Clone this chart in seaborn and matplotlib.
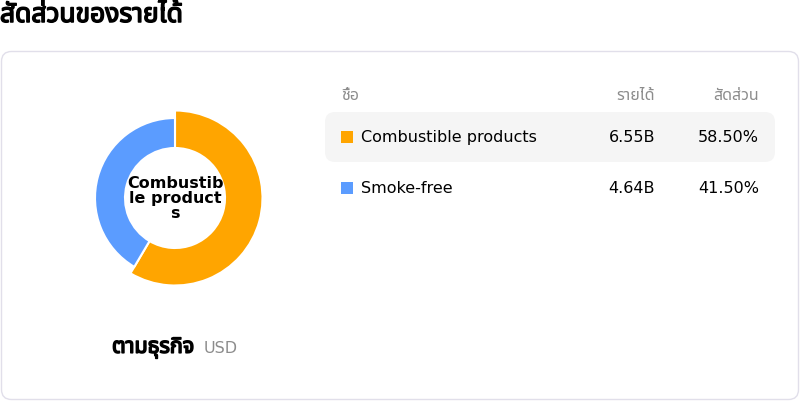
import numpy as np
import matplotlib
matplotlib.use('Agg')
import matplotlib.pyplot as plt
import matplotlib.patheffects as pe
from matplotlib.patches import FancyBboxPatch, Rectangle
import seaborn as sns

sns.set_style('white')
plt.rcParams['font.family'] = ['DejaVu Sans', 'Noto Sans Thai']
plt.rcParams['text.color'] = 'black'

title = 'สัดส่วนของรายได้'
segments = ['Combustible products', 'Smoke-free']
revenue = ['6.55B', '4.64B']
shares = [58.50, 41.50]
colors = ['#ffa500', '#5b9cff']
col_headers = ['ชื่อ', 'รายได้', 'สัดส่วน']
center_label = 'Combustib\nle product\ns'
footer = 'ตามธุรกิจ'
currency = 'USD'

# Noto Sans Thai has only a regular face here, so fake the bold with a stroke
fake_bold = [pe.withStroke(linewidth=1.1, foreground='black')]

fig = plt.figure(figsize=(8, 4.02), dpi=100)
bg = fig.add_axes([0, 0, 1, 1])
bg.set_xlim(0, 800)
bg.set_ylim(402, 0)
bg.axis('off')

# card
bg.add_patch(FancyBboxPatch((1.5, 52.5), 797, 348, boxstyle='round,pad=0,rounding_size=10',
                            fc='white', ec='#e1dfea', lw=1))
bg.text(0, 16, title, fontsize=19, va='center', ha='left', path_effects=fake_bold)

# table header
grey = '#8c8c8c'
bg.text(341, 95, col_headers[0], fontsize=11.5, color=grey, va='center', ha='left')
bg.text(655, 95, col_headers[1], fontsize=11.5, color=grey, va='center', ha='right')
bg.text(759, 95, col_headers[2], fontsize=11.5, color=grey, va='center', ha='right')

# highlighted row
bg.add_patch(FancyBboxPatch((325, 113), 450, 50, boxstyle='round,pad=0,rounding_size=10',
                            fc='#f5f5f5', ec='none'))
row_y = [138, 189]
for i, name in enumerate(segments):
    y = row_y[i]
    bg.add_patch(Rectangle((341, y - 6), 12, 12, fc=colors[i], ec='none'))
    bg.text(361, y, name, fontsize=11.5, va='center', ha='left')
    bg.text(655, y, revenue[i], fontsize=11.5, va='center', ha='right')
    bg.text(759, y, f'{shares[i]:.2f}%', fontsize=11.5, va='center', ha='right')

# footer under donut
bg.text(112, 349, footer, fontsize=15.5, va='center', ha='left', path_effects=fake_bold)
bg.text(204, 349, currency, fontsize=11.5, color=grey, va='center', ha='left')

# donut, 1 data unit = 1 px
ax = fig.add_axes([(175 - 100) / 800, 1 - (199 + 100) / 402, 200 / 800, 200 / 402])
wedges, _ = ax.pie(shares, colors=colors, startangle=90, counterclock=False, radius=80,
                   wedgeprops=dict(width=30, edgecolor='white', linewidth=1.5))
wedges[0].set_radius(87.5)
wedges[0].set_width(37.5)
ax.set_xlim(-100, 100)
ax.set_ylim(-100, 100)
ax.set_aspect('equal')
ax.axis('off')
ax.text(0, 0, center_label, fontsize=11.5, fontweight='bold', ha='center', va='center',
        linespacing=1.0)

fig.savefig('out.png', dpi=100)
